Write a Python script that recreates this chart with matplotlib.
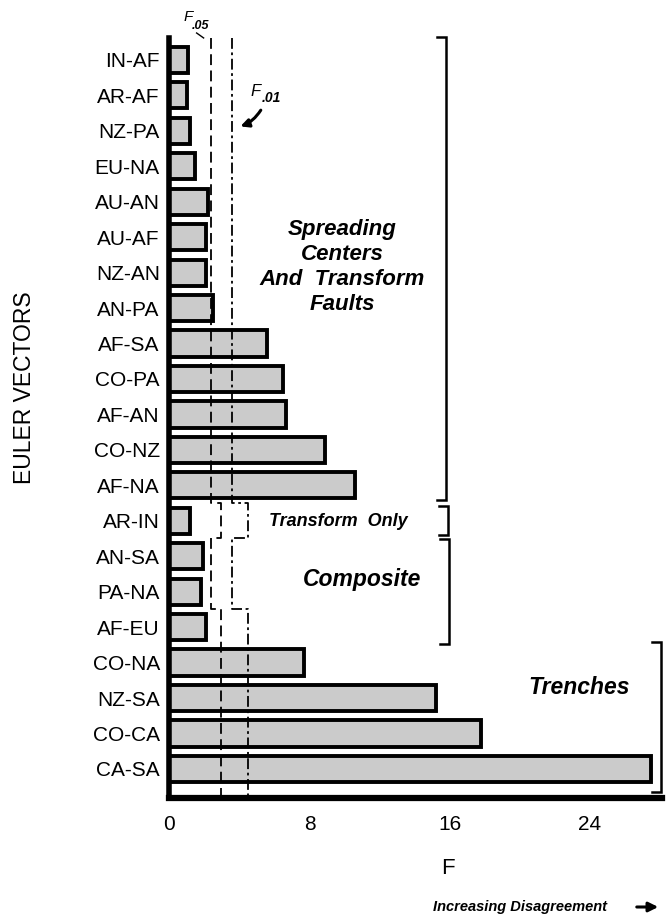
import matplotlib
matplotlib.use('Agg')
import matplotlib.pyplot as plt

plt.rcParams['font.family'] = ['Liberation Sans', 'DejaVu Sans']

# Euler vector pairs, top to bottom, and their F-ratios
pairs = ['IN-AF', 'AR-AF', 'NZ-PA', 'EU-NA', 'AU-AN', 'AU-AF', 'NZ-AN', 'AN-PA',
         'AF-SA', 'CO-PA', 'AF-AN', 'CO-NZ', 'AF-NA', 'AR-IN', 'AN-SA', 'PA-NA',
         'AF-EU', 'CO-NA', 'NZ-SA', 'CO-CA', 'CA-SA']
f_ratio = [1.05, 1.0, 1.2, 1.45, 2.2, 2.1, 2.1, 2.5,
           5.6, 6.5, 6.65, 8.9, 10.6, 1.2, 1.9, 1.8,
           2.1, 7.7, 15.2, 17.8, 27.5]

# critical F values per block of rows: (first row, last row, F.05, F.01)
crit_blocks = [(0, 12, 2.35, 3.55),
               (13, 13, 2.95, 4.5),
               (14, 15, 2.35, 3.55),
               (16, 20, 2.95, 4.5)]

group_names = ['Spreading\nCenters\nAnd  Transform\nFaults', 'Transform  Only',
               'Composite', 'Trenches']
xticks = [0, 8, 16, 24]

fig = plt.figure(figsize=(6.67, 9.19), dpi=100)
ax = fig.add_axes([0.2541, 0.1317, 0.7384, 0.827])

ypos = list(range(len(pairs)))
ax.barh(ypos, f_ratio, height=0.74, color='#cbcbcb', edgecolor='black',
        linewidth=2.8, zorder=2)

ax.set_xlim(0, 28.14)
ax.set_ylim(20.82, -0.62)
ax.set_yticks(ypos)
ax.set_yticklabels(pairs, fontsize=15)
ax.set_xticks(xticks)
ax.set_xticklabels([str(t) for t in xticks], fontsize=15)
ax.tick_params(axis='both', length=0)
ax.tick_params(axis='y', pad=7)
ax.tick_params(axis='x', pad=12)
for s in ['top', 'right']:
    ax.spines[s].set_visible(False)
ax.spines['left'].set_linewidth(4)
ax.spines['bottom'].set_linewidth(4.5)

# stepped critical value lines
f05_x, f05_y, f01_x, f01_y = [], [], [], []
for i, (r0, r1, c05, c01) in enumerate(crit_blocks):
    top = -0.62 if i == 0 else r0 - 0.5
    bot = 20.82 if i == len(crit_blocks) - 1 else r1 + 0.5
    f05_x += [c05, c05]
    f05_y += [top, bot]
    f01_x += [c01, c01]
    f01_y += [top, bot]
ax.plot(f05_x, f05_y, color='black', lw=1.3, ls=(0, (6, 3)), zorder=3)
ax.plot(f01_x, f01_y, color='black', lw=1.3, ls=(0, (6, 2, 1.5, 2)), zorder=3)

# labels of the critical lines
ax.text(1.05, -1.2, 'F', fontsize=11, style='italic', ha='center', va='center')
ax.text(1.75, -0.95, '.05', fontsize=9, style='italic', fontweight='bold',
        ha='center', va='center')
ax.plot([1.55, 1.95], [-0.76, -0.62], color='black', lw=1, clip_on=False)
ax.text(4.9, 0.88, 'F', fontsize=12, style='italic', ha='center', va='center')
ax.text(5.8, 1.07, '.01', fontsize=10, style='italic', fontweight='bold',
        ha='center', va='center')
ax.annotate('', xy=(3.9, 1.9), xytext=(5.3, 1.35),
            arrowprops=dict(arrowstyle='-|>', color='black', lw=2.2,
                            connectionstyle='arc3,rad=-0.2', mutation_scale=12))

# group labels
ax.text(9.86, 5.85, group_names[0], fontsize=16, style='italic', fontweight='bold',
        ha='center', va='center', linespacing=1.25)
ax.text(9.66, 13.03, group_names[1], fontsize=13, style='italic', fontweight='bold',
        ha='center', va='center')
ax.text(11.0, 14.67, group_names[2], fontsize=16.5, style='italic', fontweight='bold',
        ha='center', va='center')
ax.text(23.4, 17.7, group_names[3], fontsize=16.5, style='italic', fontweight='bold',
        ha='center', va='center')

# brackets on the right
def bracket(x, y0, y1):
    ax.plot([x - 0.5, x, x, x - 0.5], [y0, y0, y1, y1], color='black', lw=1.8,
            clip_on=False, solid_joinstyle='miter')

bracket(15.8, -0.65, 12.41)
bracket(15.9, 12.58, 13.4)
bracket(15.97, 13.51, 16.47)
bracket(28.08, 16.42, 20.65)

fig.text(25 / 667, 1 - 388 / 919, 'EULER VECTORS', rotation=90, fontsize=16.5,
         ha='center', va='center')
fig.text(448 / 667, 1 - 868 / 919, 'F', fontsize=16, ha='center', va='center')
fig.text(607 / 667, 1 - 907 / 919, 'Increasing Disagreement', fontsize=10.5,
         style='italic', fontweight='bold', ha='right', va='center')
fig.add_artist(matplotlib.patches.FancyArrowPatch(
    (634 / 667, 1 - 907 / 919), (661 / 667, 1 - 907 / 919),
    transform=fig.transFigure, arrowstyle='-|>', mutation_scale=14,
    lw=2.2, color='black'))

fig.savefig('out.png', dpi=100)
